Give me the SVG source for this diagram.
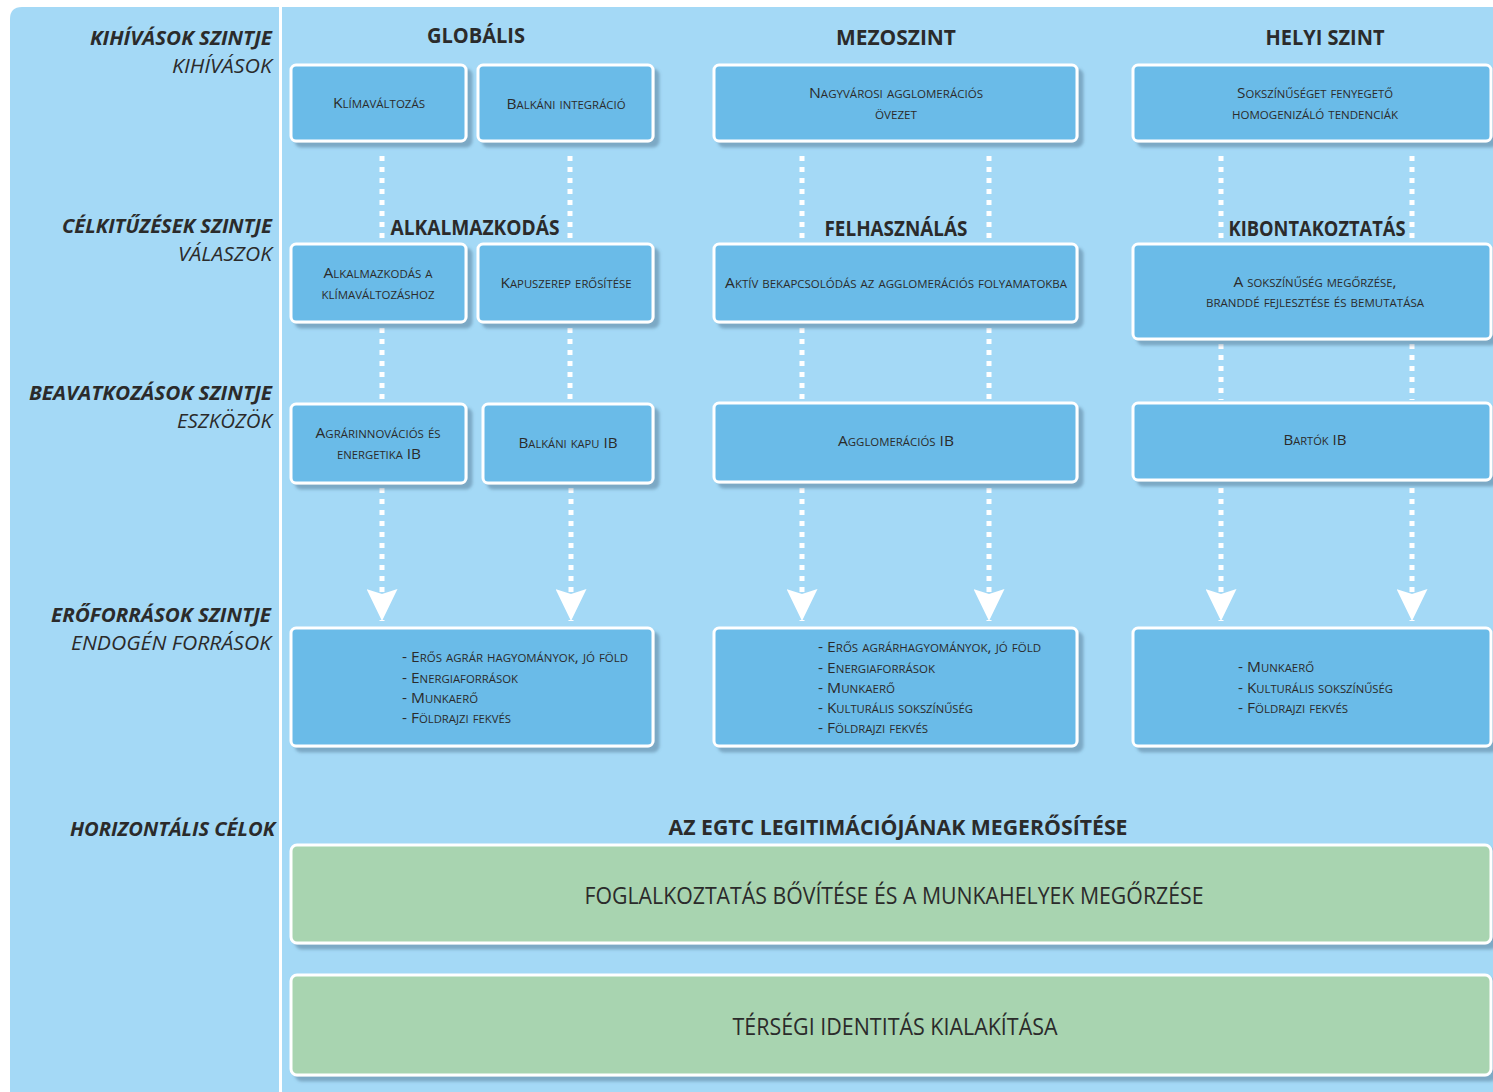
<svg xmlns="http://www.w3.org/2000/svg" width="1493" height="1092" viewBox="0 0 1493 1092">
<defs>
<style>
.bg{fill:#A4D9F6}
.box{fill:#6BBBE8;stroke:#ffffff;stroke-width:3}
.gbox{fill:#A8D4B0;stroke:#ffffff;stroke-width:3}
.sc{font-family:"Open Sans","Liberation Sans",sans-serif;font-size:15px;font-variant:small-caps;fill:#2b2b2b;text-anchor:middle}
.scl{font-family:"Open Sans","Liberation Sans",sans-serif;font-size:15px;font-variant:small-caps;fill:#2b2b2b}
.lvl{font-family:"Open Sans","Liberation Sans",sans-serif;font-size:20px;font-weight:bold;font-style:italic;fill:#2b2b2b;text-anchor:end}
.sub{font-family:"Open Sans","Liberation Sans",sans-serif;font-size:20px;font-style:italic;fill:#2b2b2b;text-anchor:end}
.hd{font-family:"Open Sans","Liberation Sans",sans-serif;font-size:21px;font-weight:bold;fill:#2b2b2b;text-anchor:middle}
.gt{font-family:"Open Sans","Liberation Sans",sans-serif;font-size:23px;fill:#2b2b2b;text-anchor:middle}
.dot{stroke:#ffffff;stroke-width:5;stroke-dasharray:5 6;fill:none}
</style>
<filter id="sh" x="-5%" y="-10%" width="115%" height="130%">
<feDropShadow dx="5" dy="5" stdDeviation="1.5" flood-color="#4a6f8a" flood-opacity="0.45"/>
</filter>
<marker id="arr" viewBox="0 0 32 31" refX="32" refY="15.5" markerWidth="32" markerHeight="31" markerUnits="userSpaceOnUse" orient="auto">
<path d="M0,0 L5,15.5 L0,31 L32,15.5 Z" fill="#ffffff"/>
</marker>
</defs>

<rect x="0" y="0" width="1493" height="1092" fill="#ffffff"/>
<path class="bg" d="M10,19 Q10,7 22,7 L1493,7 L1493,1092 L10,1092 Z"/>
<line x1="280.5" y1="7" x2="280.5" y2="1092" stroke="#ffffff" stroke-width="3"/>

<g id="level-labels">
<text class="lvl" x="272" y="45" textLength="182" lengthAdjust="spacingAndGlyphs">KIHÍVÁSOK SZINTJE</text>
<text class="sub" x="272" y="73" textLength="100" lengthAdjust="spacingAndGlyphs">KIHÍVÁSOK</text>
<text class="lvl" x="272" y="233" textLength="210" lengthAdjust="spacingAndGlyphs">CÉLKITŰZÉSEK SZINTJE</text>
<text class="sub" x="272" y="261" textLength="94" lengthAdjust="spacingAndGlyphs">VÁLASZOK</text>
<text class="lvl" x="272" y="400" textLength="243" lengthAdjust="spacingAndGlyphs">BEAVATKOZÁSOK SZINTJE</text>
<text class="sub" x="272" y="428" textLength="95" lengthAdjust="spacingAndGlyphs">ESZKÖZÖK</text>
<text class="lvl" x="271" y="622" textLength="220" lengthAdjust="spacingAndGlyphs">ERŐFORRÁSOK SZINTJE</text>
<text class="sub" x="271" y="650" textLength="200" lengthAdjust="spacingAndGlyphs">ENDOGÉN FORRÁSOK</text>
<text class="lvl" x="275" y="836" textLength="205" lengthAdjust="spacingAndGlyphs">HORIZONTÁLIS CÉLOK</text>
</g>

<g id="headers">
<text class="hd" x="476" y="43" textLength="98" lengthAdjust="spacingAndGlyphs">GLOBÁLIS</text>
<text class="hd" x="896" y="45" textLength="120" lengthAdjust="spacingAndGlyphs">MEZOSZINT</text>
<text class="hd" x="1325" y="45" textLength="119" lengthAdjust="spacingAndGlyphs">HELYI SZINT</text>
<text class="hd" x="475" y="235" textLength="169" lengthAdjust="spacingAndGlyphs">ALKALMAZKODÁS</text>
<text class="hd" x="896" y="236" textLength="143" lengthAdjust="spacingAndGlyphs">FELHASZNÁLÁS</text>
<text class="hd" x="1317" y="236" textLength="177" lengthAdjust="spacingAndGlyphs">KIBONTAKOZTATÁS</text>
<text class="hd" x="898" y="835" textLength="459" lengthAdjust="spacingAndGlyphs">AZ EGTC LEGITIMÁCIÓJÁNAK MEGERŐSÍTÉSE</text>
</g>

<g id="connectors">
<line class="dot" x1="382" y1="156" x2="382" y2="240"/>
<line class="dot" x1="570" y1="156" x2="570" y2="240"/>
<line class="dot" x1="802" y1="156" x2="802" y2="240"/>
<line class="dot" x1="989" y1="156" x2="989" y2="240"/>
<line class="dot" x1="1221" y1="156" x2="1221" y2="240"/>
<line class="dot" x1="1412" y1="156" x2="1412" y2="240"/>
<line class="dot" x1="382" y1="328" x2="382" y2="400"/>
<line class="dot" x1="570" y1="328" x2="570" y2="400"/>
<line class="dot" x1="802" y1="328" x2="802" y2="400"/>
<line class="dot" x1="989" y1="328" x2="989" y2="400"/>
<line class="dot" x1="1221" y1="344" x2="1221" y2="400"/>
<line class="dot" x1="1412" y1="344" x2="1412" y2="400"/>
<line class="dot" x1="382" y1="488" x2="382" y2="621" marker-end="url(#arr)"/>
<line class="dot" x1="571" y1="488" x2="571" y2="621" marker-end="url(#arr)"/>
<line class="dot" x1="802" y1="488" x2="802" y2="621" marker-end="url(#arr)"/>
<line class="dot" x1="989" y1="488" x2="989" y2="621" marker-end="url(#arr)"/>
<line class="dot" x1="1221" y1="488" x2="1221" y2="621" marker-end="url(#arr)"/>
<line class="dot" x1="1412" y1="488" x2="1412" y2="621" marker-end="url(#arr)"/>
</g>

<g id="n-klima">
<rect class="box" filter="url(#sh)" x="291" y="65" width="175" height="76" rx="5"/>
<text class="sc" x="379" y="108" textLength="92" lengthAdjust="spacingAndGlyphs">Klímaváltozás</text>
</g>
<g id="n-balkan-integracio">
<rect class="box" filter="url(#sh)" x="478" y="65" width="175" height="76" rx="5"/>
<text class="sc" x="566" y="109" textLength="119" lengthAdjust="spacingAndGlyphs">Balkáni integráció</text>
</g>
<g id="n-nagyvarosi">
<rect class="box" filter="url(#sh)" x="714" y="65" width="363" height="76" rx="5"/>
<text class="sc" x="896" y="98" textLength="174" lengthAdjust="spacingAndGlyphs">Nagyvárosi agglomerációs</text>
<text class="sc" x="896" y="119" textLength="42" lengthAdjust="spacingAndGlyphs">övezet</text>
</g>
<g id="n-sokszinuseg-fenyegeto">
<rect class="box" filter="url(#sh)" x="1133" y="65" width="358" height="76" rx="5"/>
<text class="sc" x="1315" y="98" textLength="156" lengthAdjust="spacingAndGlyphs">Sokszínűséget fenyegető</text>
<text class="sc" x="1315" y="119" textLength="166" lengthAdjust="spacingAndGlyphs">homogenizáló tendenciák</text>
</g>

<g id="n-alkalmazkodas">
<rect class="box" filter="url(#sh)" x="291" y="244" width="175" height="78" rx="5"/>
<text class="sc" x="378" y="278" textLength="109" lengthAdjust="spacingAndGlyphs">Alkalmazkodás a</text>
<text class="sc" x="378" y="299" textLength="113" lengthAdjust="spacingAndGlyphs">klímaváltozáshoz</text>
</g>
<g id="n-kapuszerep">
<rect class="box" filter="url(#sh)" x="478" y="244" width="175" height="78" rx="5"/>
<text class="sc" x="566" y="288" textLength="131" lengthAdjust="spacingAndGlyphs">Kapuszerep erősítése</text>
</g>
<g id="n-aktiv">
<rect class="box" filter="url(#sh)" x="714" y="244" width="363" height="78" rx="5"/>
<text class="sc" x="896" y="288" textLength="342" lengthAdjust="spacingAndGlyphs">Aktív bekapcsolódás az agglomerációs folyamatokba</text>
</g>
<g id="n-sokszinuseg-megorzese">
<rect class="box" filter="url(#sh)" x="1133" y="244" width="358" height="95" rx="5"/>
<text class="sc" x="1315" y="287" textLength="163" lengthAdjust="spacingAndGlyphs">A sokszínűség megőrzése,</text>
<text class="sc" x="1315" y="307" textLength="218" lengthAdjust="spacingAndGlyphs">branddé fejlesztése és bemutatása</text>
</g>

<g id="n-agrarinnovacios">
<rect class="box" filter="url(#sh)" x="291" y="404" width="175" height="79" rx="5"/>
<text class="sc" x="378" y="438" textLength="125" lengthAdjust="spacingAndGlyphs">Agrárinnovációs és</text>
<text class="sc" x="379" y="459" textLength="84" lengthAdjust="spacingAndGlyphs">energetika IB</text>
</g>
<g id="n-balkani-kapu">
<rect class="box" filter="url(#sh)" x="483" y="404" width="170" height="79" rx="5"/>
<text class="sc" x="568" y="448" textLength="99" lengthAdjust="spacingAndGlyphs">Balkáni kapu IB</text>
</g>
<g id="n-agglomeracios">
<rect class="box" filter="url(#sh)" x="714" y="403" width="363" height="79" rx="5"/>
<text class="sc" x="896" y="446" textLength="116" lengthAdjust="spacingAndGlyphs">Agglomerációs IB</text>
</g>
<g id="n-bartok">
<rect class="box" filter="url(#sh)" x="1133" y="403" width="358" height="77" rx="5"/>
<text class="sc" x="1315" y="445" textLength="63" lengthAdjust="spacingAndGlyphs">Bartók IB</text>
</g>

<g id="n-forrasok-globalis">
<rect class="box" filter="url(#sh)" x="291" y="628" width="362" height="118" rx="5"/>
<text class="scl" x="402" y="662" textLength="226" lengthAdjust="spacingAndGlyphs">- Erős agrár hagyományok, jó föld</text>
<text class="scl" x="402" y="683" textLength="116" lengthAdjust="spacingAndGlyphs">- Energiaforrások</text>
<text class="scl" x="402" y="703" textLength="76" lengthAdjust="spacingAndGlyphs">- Munkaerő</text>
<text class="scl" x="402" y="723" textLength="109" lengthAdjust="spacingAndGlyphs">- Földrajzi fekvés</text>
</g>
<g id="n-forrasok-mezo">
<rect class="box" filter="url(#sh)" x="714" y="628" width="363" height="118" rx="5"/>
<text class="scl" x="818" y="652" textLength="223" lengthAdjust="spacingAndGlyphs">- Erős agrárhagyományok, jó föld</text>
<text class="scl" x="818" y="673" textLength="117" lengthAdjust="spacingAndGlyphs">- Energiaforrások</text>
<text class="scl" x="818" y="693" textLength="77" lengthAdjust="spacingAndGlyphs">- Munkaerő</text>
<text class="scl" x="818" y="713" textLength="155" lengthAdjust="spacingAndGlyphs">- Kulturális sokszínűség</text>
<text class="scl" x="818" y="733" textLength="110" lengthAdjust="spacingAndGlyphs">- Földrajzi fekvés</text>
</g>
<g id="n-forrasok-helyi">
<rect class="box" filter="url(#sh)" x="1133" y="628" width="358" height="118" rx="5"/>
<text class="scl" x="1238" y="672" textLength="76" lengthAdjust="spacingAndGlyphs">- Munkaerő</text>
<text class="scl" x="1238" y="693" textLength="155" lengthAdjust="spacingAndGlyphs">- Kulturális sokszínűség</text>
<text class="scl" x="1238" y="713" textLength="110" lengthAdjust="spacingAndGlyphs">- Földrajzi fekvés</text>
</g>

<g id="n-foglalkoztatas">
<rect class="gbox" filter="url(#sh)" x="291" y="845" width="1200" height="98" rx="6"/>
<text class="gt" x="894" y="904" textLength="619" lengthAdjust="spacingAndGlyphs">FOGLALKOZTATÁS BŐVÍTÉSE ÉS A MUNKAHELYEK MEGŐRZÉSE</text>
</g>
<g id="n-tersegi-identitas">
<rect class="gbox" filter="url(#sh)" x="291" y="975" width="1200" height="100" rx="6"/>
<text class="gt" x="895" y="1035" textLength="325" lengthAdjust="spacingAndGlyphs">TÉRSÉGI IDENTITÁS KIALAKÍTÁSA</text>
</g>
</svg>
